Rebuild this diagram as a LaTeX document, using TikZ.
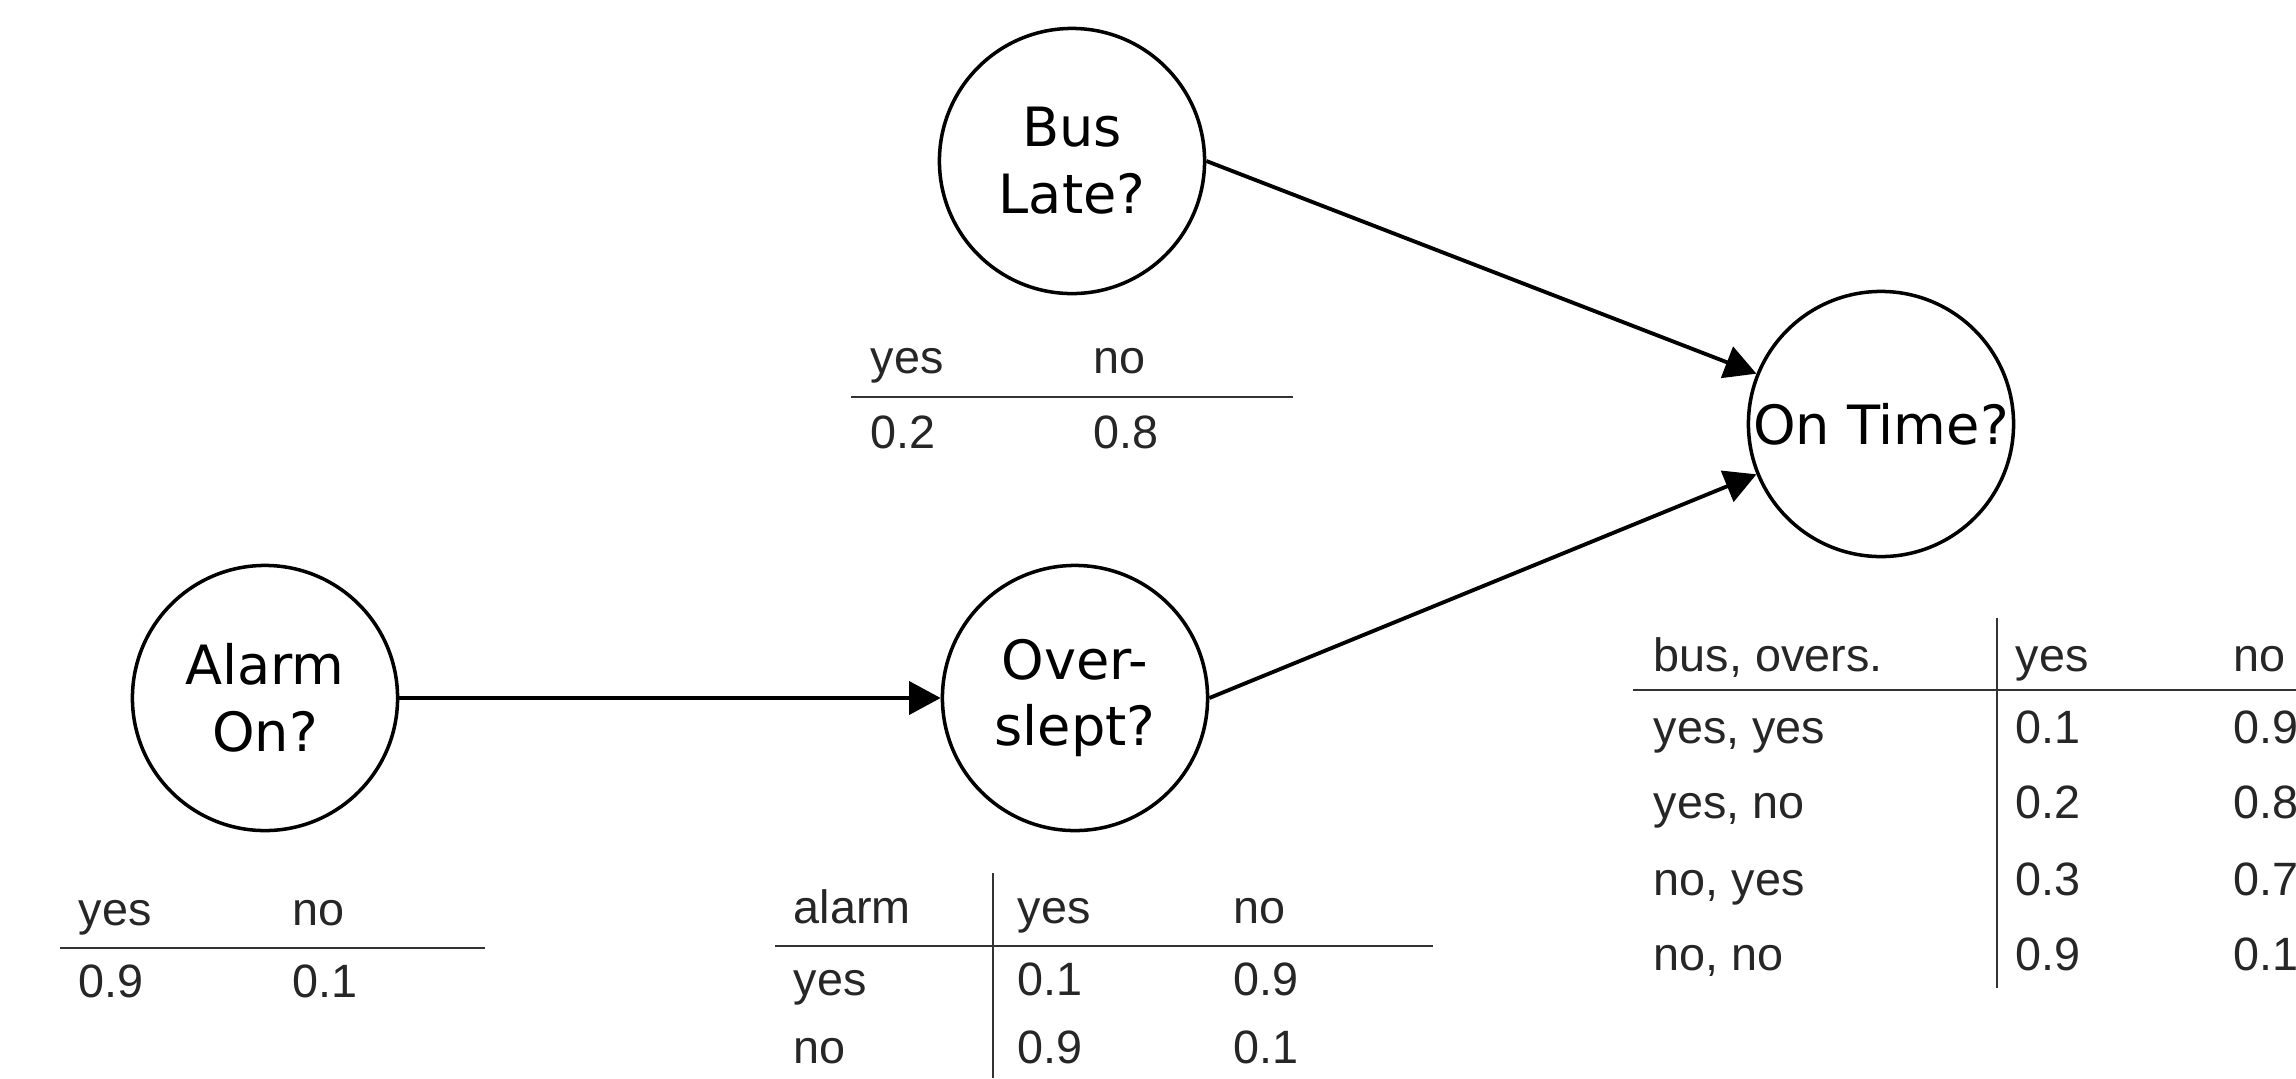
\documentclass[tikz,border=0pt]{standalone}
\usepackage{fontspec}
\setmainfont{DejaVu Sans}
\newfontfamily\tabfont{Liberation Sans}
\usetikzlibrary{arrows.meta}
\begin{document}
\begin{tikzpicture}[x=0.01cm,y=-0.01cm,
  bnode/.style={circle,draw,line width=1pt,minimum size=2.65cm,inner sep=0pt,align=center,
    font=\fontsize{15.4}{19}\selectfont},
  edge/.style={line width=1.1pt,-{Triangle[length=9pt,width=9.4pt]}},
  cell/.style={anchor=base west,inner sep=0pt,font=\tabfont\fontsize{13.3}{16}\selectfont,text=black!85},
  rule/.style={line width=0.8pt,black!80}]
\useasboundingbox (0,0) rectangle (2296,1078);

% nodes
\node[bnode] (bus) at (1072,161) {Bus\\Late?};
\node[bnode] (ot) at (1881,424) {On Time?};
\node[bnode] (alarm) at (265,698) {Alarm\\On?};
\node[bnode] (over) at (1075,698) {Over-\\slept?};

% edges
\draw[edge] (alarm) -- (over);
\draw[edge] (bus.east) -- (ot.158);
\draw[edge] (over.east) -- (ot.202);

% Bus Late table
\node[cell] (b11) at (870,373) {yes};
\node[cell] (b12) at (1093,373) {no};
\node[cell] (b21) at (870,448) {0.2};
\node[cell] (b22) at (1093,448) {0.8};
\draw[rule] (851,397) -- (1293,397);

% Alarm table
\node[cell] (a11) at (78,925) {yes};
\node[cell] (a12) at (292,925) {no};
\node[cell] (a21) at (78,997) {0.9};
\node[cell] (a22) at (292,997) {0.1};
\draw[rule] (60,948) -- (485,948);

% Overslept table
\node[cell] (o11) at (793,923) {alarm};
\node[cell] (o12) at (1017,923) {yes};
\node[cell] (o13) at (1233,923) {no};
\node[cell] (o21) at (793,995) {yes};
\node[cell] (o22) at (1017,995) {0.1};
\node[cell] (o23) at (1233,995) {0.9};
\node[cell] (o31) at (793,1063) {no};
\node[cell] (o32) at (1017,1063) {0.9};
\node[cell] (o33) at (1233,1063) {0.1};
\draw[rule] (775,946) -- (1433,946);
\draw[rule,line width=0.7pt] (993,873) -- (993,1078);

% On Time table
\node[cell] (t11) at (1653,671) {bus, overs.};
\node[cell] (t12) at (2015,671) {yes};
\node[cell] (t13) at (2233,671) {no};
\node[cell] (t21) at (1653,743) {yes, yes};
\node[cell] (t22) at (2015,743) {0.1};
\node[cell] (t23) at (2233,743) {0.9};
\node[cell] (t31) at (1653,818) {yes, no};
\node[cell] (t32) at (2015,818) {0.2};
\node[cell] (t33) at (2233,818) {0.8};
\node[cell] (t41) at (1653,895) {no, yes};
\node[cell] (t42) at (2015,895) {0.3};
\node[cell] (t43) at (2233,895) {0.7};
\node[cell] (t51) at (1653,970) {no, no};
\node[cell] (t52) at (2015,970) {0.9};
\node[cell] (t53) at (2233,970) {0.1};
\draw[rule] (1633,690) -- (2296,690);
\draw[rule,line width=0.7pt] (1997,618) -- (1997,988);
\end{tikzpicture}
\end{document}
